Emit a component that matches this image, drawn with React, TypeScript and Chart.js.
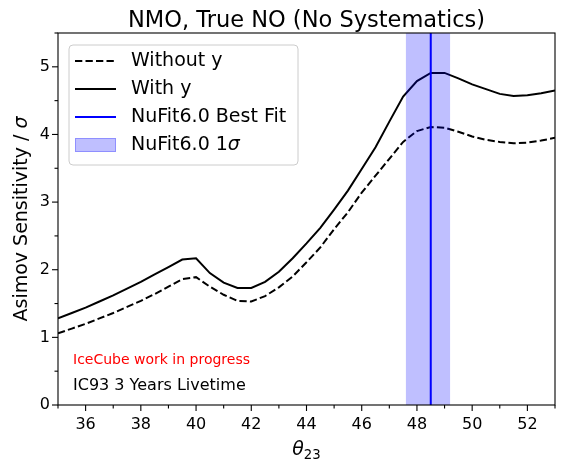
import React, { useEffect, useRef } from "react";
import { Chart, registerables } from "chart.js";

Chart.register(...registerables);

// Mixing angle grid (degrees)
const theta = [
  35, 35.5, 36, 36.5, 37, 37.5, 38, 38.5, 39, 39.5, 40, 40.5, 41, 41.5, 42, 42.5, 43, 43.5,
  44, 44.5, 45, 45.5, 46, 46.5, 47, 47.5, 48, 48.5, 49, 49.5, 50, 50.5, 51, 51.5, 52, 52.5, 53,
];

// Asimov sensitivity with the inelasticity (y) information
const withY = [
  1.28, 1.36, 1.44, 1.53, 1.62, 1.72, 1.82, 1.93, 2.04, 2.15, 2.17, 1.95, 1.81, 1.73, 1.73, 1.82, 1.97, 2.17,
  2.39, 2.62, 2.89, 3.17, 3.49, 3.81, 4.19, 4.56, 4.79, 4.91, 4.91, 4.83, 4.74, 4.67, 4.6, 4.57, 4.58, 4.61, 4.65,
];

// Asimov sensitivity without the inelasticity (y) information
const withoutY = [
  1.06, 1.13, 1.2, 1.28, 1.36, 1.45, 1.54, 1.64, 1.75, 1.86, 1.89, 1.75, 1.63, 1.54, 1.53, 1.61, 1.74, 1.9,
  2.11, 2.33, 2.6, 2.85, 3.14, 3.39, 3.64, 3.89, 4.05, 4.11, 4.1, 4.04, 3.97, 3.92, 3.89, 3.87, 3.88, 3.91, 3.95,
];

// NuFit 6.0 best fit and 1 sigma interval for theta23
const bestFit = 48.5;
const oneSigma = [47.6, 49.2];

// Axis ticks
const xMajor = [36, 38, 40, 42, 44, 46, 48, 50, 52];
const xMinor = [35, 37, 39, 41, 43, 45, 47, 49, 51, 53];
const yMajor = [0, 1, 2, 3, 4, 5];
const yMinor = [0.5, 1.5, 2.5, 3.5, 4.5, 5.5];

const FONT = "'DejaVu Sans', sans-serif";
const BAND = "rgba(0,0,255,0.25)";
const DASH = [7.3, 3.2];

const decor = {
  id: "decor",
  afterDatasetsDraw(chart: any) {
    const { ctx, chartArea: a, scales } = chart;
    const x = scales.x;
    ctx.save();
    const x0 = x.getPixelForValue(oneSigma[0]);
    const x1 = x.getPixelForValue(oneSigma[1]);
    ctx.fillStyle = BAND;
    ctx.fillRect(x0, a.top, x1 - x0, a.bottom - a.top);
    const xb = x.getPixelForValue(bestFit);
    ctx.strokeStyle = "#0000ff";
    ctx.lineWidth = 2;
    ctx.beginPath();
    ctx.moveTo(xb, a.top);
    ctx.lineTo(xb, a.bottom);
    ctx.stroke();
    ctx.restore();
  },
  afterDraw(chart: any) {
    const { ctx, chartArea: a, scales } = chart;
    const x = scales.x;
    const y = scales.y;
    ctx.save();

    // axes frame
    ctx.strokeStyle = "#000";
    ctx.lineWidth = 1.1;
    ctx.strokeRect(a.left, a.top, a.right - a.left, a.bottom - a.top);

    // tick marks (outward)
    const tick = (px: number, len: number, horiz: boolean) => {
      ctx.beginPath();
      if (horiz) {
        ctx.moveTo(px, a.bottom);
        ctx.lineTo(px, a.bottom + len);
      } else {
        ctx.moveTo(a.left, px);
        ctx.lineTo(a.left - len, px);
      }
      ctx.stroke();
    };
    ctx.lineWidth = 1.1;
    xMajor.forEach((v) => tick(x.getPixelForValue(v), 6, true));
    xMinor.forEach((v) => tick(x.getPixelForValue(v), 3.5, true));
    yMajor.forEach((v) => tick(y.getPixelForValue(v), 6, false));
    yMinor.forEach((v) => tick(y.getPixelForValue(v), 3.5, false));

    // title
    ctx.fillStyle = "#000";
    ctx.textAlign = "center";
    ctx.textBaseline = "alphabetic";
    ctx.font = `22.5px ${FONT}`;
    ctx.fillText("NMO, True NO (No Systematics)", (a.left + a.right) / 2, 27);

    // x axis title: theta_23
    const cx = (a.left + a.right) / 2;
    ctx.font = `italic 19px ${FONT}`;
    const wTh = ctx.measureText("θ").width;
    ctx.font = `13.3px ${FONT}`;
    const wSub = ctx.measureText("23").width;
    const startX = cx - (wTh + wSub) / 2;
    ctx.textAlign = "left";
    ctx.font = `italic 19px ${FONT}`;
    ctx.fillText("θ", startX, 454.5);
    ctx.font = `13.3px ${FONT}`;
    ctx.fillText("23", startX + wTh, 458.5);

    // y axis title
    ctx.save();
    ctx.translate(26.5, (a.top + a.bottom) / 2);
    ctx.rotate(-Math.PI / 2);
    ctx.font = `19px ${FONT}`;
    const yMain = "Asimov Sensitivity / ";
    const wMain = ctx.measureText(yMain).width;
    ctx.font = `italic 19px ${FONT}`;
    const wSig = ctx.measureText("σ").width;
    const sx = -(wMain + wSig) / 2;
    ctx.font = `19px ${FONT}`;
    ctx.fillText(yMain, sx, 0);
    ctx.font = `italic 19px ${FONT}`;
    ctx.fillText("σ", sx + wMain, 0);
    ctx.restore();

    // annotations
    ctx.textAlign = "left";
    ctx.fillStyle = "#ff0000";
    ctx.font = `14px ${FONT}`;
    ctx.fillText("IceCube work in progress", 73, 364);
    ctx.fillStyle = "#000";
    ctx.font = `16px ${FONT}`;
    ctx.fillText("IC93 3 Years Livetime", 73, 390);

    // legend
    const lx = 69, ly = 45, lw = 229, lh = 120, r = 4;
    ctx.beginPath();
    ctx.moveTo(lx + r, ly);
    ctx.arcTo(lx + lw, ly, lx + lw, ly + lh, r);
    ctx.arcTo(lx + lw, ly + lh, lx, ly + lh, r);
    ctx.arcTo(lx, ly + lh, lx, ly, r);
    ctx.arcTo(lx, ly, lx + lw, ly, r);
    ctx.closePath();
    ctx.fillStyle = "rgba(255,255,255,0.8)";
    ctx.fill();
    ctx.strokeStyle = "#cccccc";
    ctx.lineWidth = 1;
    ctx.stroke();

    const ds = chart.data.datasets;
    const rows = [61, 89, 117, 145];
    const hx0 = 75, hx1 = 116, tx = 131;
    const handle = (row: number, color: string, dash: number[]) => {
      ctx.save();
      ctx.strokeStyle = color;
      ctx.lineWidth = 2;
      ctx.setLineDash(dash);
      ctx.beginPath();
      ctx.moveTo(hx0, row);
      ctx.lineTo(hx1, row);
      ctx.stroke();
      ctx.restore();
    };
    handle(rows[0], "#000", DASH);
    handle(rows[1], "#000", []);
    handle(rows[2], "#0000ff", []);
    ctx.fillStyle = BAND;
    ctx.fillRect(hx0, rows[3] - 7, hx1 - hx0, 14);
    ctx.strokeStyle = BAND;
    ctx.strokeRect(hx0 + 0.5, rows[3] - 6.5, hx1 - hx0 - 1, 13);

    ctx.fillStyle = "#000";
    ctx.textBaseline = "middle";
    ctx.font = `19px ${FONT}`;
    ctx.fillText(ds[0].label, tx, rows[0]);
    ctx.fillText(ds[1].label, tx, rows[1]);
    ctx.fillText("NuFit6.0 Best Fit", tx, rows[2]);
    const lab = "NuFit6.0 1";
    ctx.fillText(lab, tx, rows[3]);
    const wl = ctx.measureText(lab).width;
    ctx.font = `italic 19px ${FONT}`;
    ctx.fillText("σ", tx + wl, rows[3]);

    ctx.restore();
  },
};

export default function App() {
  const ref = useRef<HTMLCanvasElement | null>(null);

  useEffect(() => {
    const canvas = ref.current;
    if (!canvas) return;
    const chart = new Chart(canvas, {
      type: "line",
      data: {
        datasets: [
          {
            label: "Without y",
            data: theta.map((t, i) => ({ x: t, y: withoutY[i] })),
            borderColor: "#000",
            borderWidth: 2,
            borderDash: DASH,
            pointRadius: 0,
            tension: 0,
            fill: false,
          },
          {
            label: "With y",
            data: theta.map((t, i) => ({ x: t, y: withY[i] })),
            borderColor: "#000",
            borderWidth: 2,
            pointRadius: 0,
            tension: 0,
            fill: false,
          },
        ],
      },
      options: {
        animation: false,
        responsive: false,
        devicePixelRatio: 1,
        layout: { padding: { top: 33, right: 9, left: 0, bottom: 0 } },
        plugins: {
          legend: { display: false },
          title: { display: false },
          tooltip: { enabled: false },
        },
        scales: {
          x: {
            type: "linear",
            min: 35,
            max: 53,
            afterBuildTicks: (s: any) => {
              s.ticks = xMajor.map((v) => ({ value: v }));
            },
            afterFit: (s: any) => {
              s.height = 64;
            },
            grid: { display: false, drawTicks: false },
            border: { display: false },
            ticks: {
              padding: 10,
              color: "#000",
              font: { family: FONT, size: 16 },
              maxRotation: 0,
              autoSkip: false,
            },
          },
          y: {
            type: "linear",
            min: 0,
            max: 5.5,
            afterBuildTicks: (s: any) => {
              s.ticks = yMajor.map((v) => ({ value: v }));
            },
            afterFit: (s: any) => {
              s.width = 58;
            },
            grid: { display: false, drawTicks: false },
            border: { display: false },
            ticks: {
              padding: 8,
              color: "#000",
              font: { family: FONT, size: 16 },
              autoSkip: false,
            },
          },
        },
      },
      plugins: [decor],
    } as any);
    return () => chart.destroy();
  }, []);

  return (
    <div style={{ position: "absolute", left: 0, top: 0, width: 564, height: 469, background: "#fff" }}>
      <canvas ref={ref} width={564} height={469} style={{ display: "block", width: 564, height: 469 }} />
    </div>
  );
}
